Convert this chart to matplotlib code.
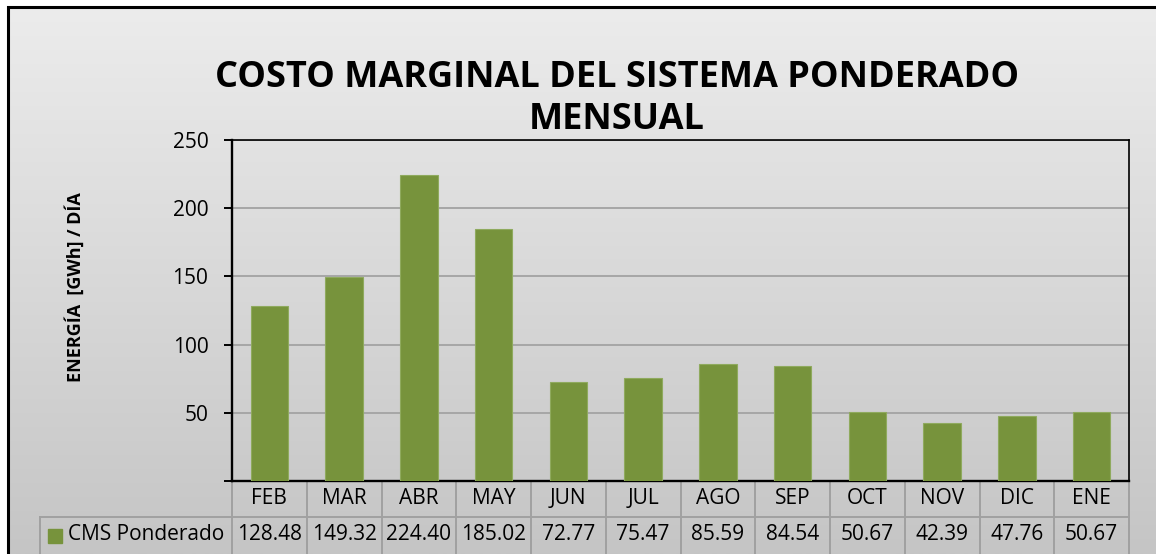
import numpy as np
import matplotlib
matplotlib.use('Agg')
import matplotlib.pyplot as plt
from matplotlib.patches import Rectangle
from matplotlib.colors import LinearSegmentedColormap
from matplotlib.transforms import blended_transform_factory

plt.rcParams['font.family'] = ['Open Sans', 'DejaVu Sans']

meses = ['FEB', 'MAR', 'ABR', 'MAY', 'JUN', 'JUL', 'AGO', 'SEP', 'OCT', 'NOV', 'DIC', 'ENE']
cms = [128.48, 149.32, 224.40, 185.02, 72.77, 75.47, 85.59, 84.54, 50.67, 42.39, 47.76, 50.67]
serie = 'CMS Ponderado'
titulo = ['COSTO MARGINAL DEL SISTEMA PONDERADO', 'MENSUAL']
ylabel = 'ENERGÍA  [GWh] / DÍA'
yticks = [0, 50, 100, 150, 200, 250]

W, H = 1156, 554
fig = plt.figure(figsize=(W/100, H/100), dpi=100)
fig.patch.set_facecolor('white')

# fondo degradado dentro del marco
x0 = 7.5/W
ytop = (H-7.5)/H
bg = fig.add_axes([x0, 0, 1-x0, ytop], zorder=-10)
cmap = LinearSegmentedColormap.from_list('g', ['#ECECEC', '#C5C5C5'])
bg.imshow(np.linspace(0, 1, 256).reshape(-1, 1), aspect='auto', cmap=cmap,
          extent=[0, 1, 0, 1], origin='upper')
bg.axis('off')

# marco negro
fig.add_artist(Rectangle((x0, -0.1), 1.2, ytop+0.1, transform=fig.transFigure,
                         fill=False, lw=2.2, ec='black', clip_on=False))

ax = fig.add_axes([232/W, (H-481)/H, 897/W, 341/H])
ax.set_facecolor('none')
x = np.arange(len(meses))
ax.bar(x, cms, width=0.5, color='#77933C', edgecolor='#8FAA5E', linewidth=0.8, zorder=3)
ax.set_xlim(-0.5, len(meses)-0.5)
ax.set_ylim(0, 250)
ax.set_yticks(yticks)
ax.set_yticklabels([''] + [str(v) for v in yticks[1:]], fontsize=15)
ax.tick_params(axis='y', length=6, width=1.4, pad=11)
ax.set_xticks([])
ax.yaxis.grid(True, color='#A6A6A6', lw=1.4, zorder=1)
ax.set_axisbelow(True)
for s in ['left', 'bottom']:
    ax.spines[s].set_linewidth(1.7)
for s in ['top', 'right']:
    ax.spines[s].set_linewidth(1.2)

fig.text(617/W, 1-78/H, titulo[0], ha='center', va='center', fontsize=26,
         fontweight='bold')
fig.text(617/W, 1-120/H, titulo[1], ha='center', va='center', fontsize=26,
         fontweight='bold')
fig.text(75/W, 1-287/H, ylabel, rotation=90, ha='center', va='center',
         fontsize=13, fontweight='bold')

# tabla de datos
tr = blended_transform_factory(ax.transData, ax.transAxes)
rh = 36/341
lx = (40-232)/897
grid_c = '#A0A0A0'
for k in range(len(meses)+1):
    ax.plot([k-0.5, k-0.5], [0, -0.3], color=grid_c, lw=1.4, transform=tr, clip_on=False)
ax.plot([lx, 1], [-rh, -rh], color=grid_c, lw=1.4, transform=ax.transAxes, clip_on=False)
ax.plot([lx, lx], [-rh, -0.3], color=grid_c, lw=1.4, transform=ax.transAxes, clip_on=False)
for i, m in enumerate(meses):
    ax.text(i, -rh/2, m, ha='center', va='center', fontsize=15, transform=tr)
    ax.text(i, -1.5*rh, '%.2f' % cms[i], ha='center', va='center', fontsize=15, transform=tr)
ax.add_patch(Rectangle(((48-232)/897, (481-543)/341), 14/897, 14/341,
                       transform=ax.transAxes, color='#77933C', clip_on=False))
ax.text((68-232)/897, -1.5*rh, serie, ha='left', va='center', fontsize=15,
        transform=ax.transAxes)

fig.savefig('out.png', dpi=100)
